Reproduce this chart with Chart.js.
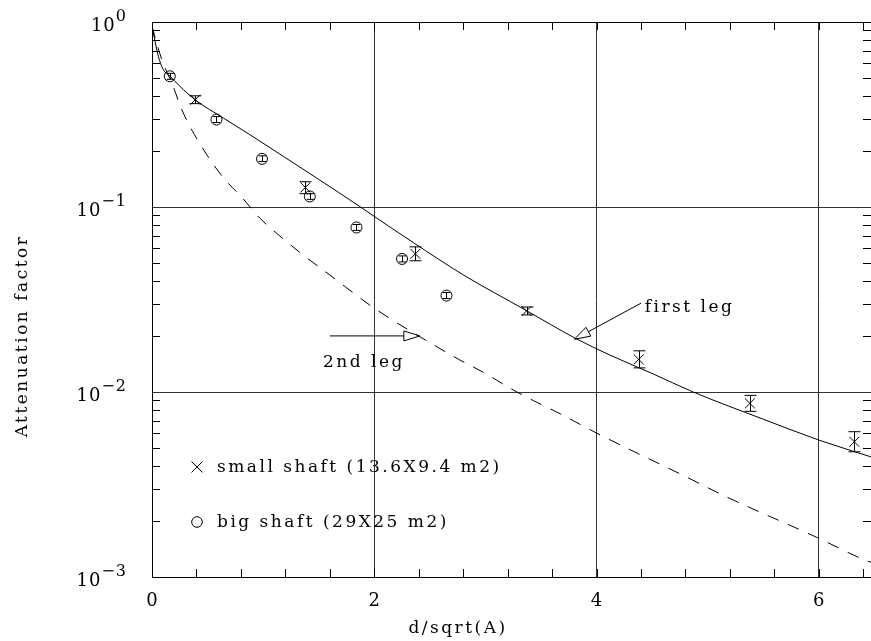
<!DOCTYPE html>
<html>
<head>
<meta charset="utf-8">
<script src="https://cdn.jsdelivr.net/npm/chart.js@4"></script>
<style>
  html, body { margin: 0; padding: 0; background: #fff; }
</style>
</head>
<body>
<canvas id="myChart" width="871" height="641"></canvas>
<script>
// measured points, small shaft (x marks, with error bars)
const smallX  = [0.39, 1.38, 2.37, 3.37, 4.38, 5.38, 6.32];
const smallY  = [0.380, 0.1275, 0.0558, 0.0274, 0.0150, 0.00868, 0.00538];
const smallLo = [0.362, 0.118, 0.0512, 0.0261, 0.0135, 0.00786, 0.00475];
const smallHi = [0.399, 0.137, 0.0609, 0.0288, 0.0167, 0.00959, 0.00610];

// measured points, big shaft (circles)
const bigX  = [0.16, 0.58, 0.99, 1.42, 1.84, 2.25, 2.65];
const bigY  = [0.509, 0.297, 0.182, 0.114, 0.0775, 0.0524, 0.0332];
const bigLo = [0.490, 0.286, 0.176, 0.110, 0.0747, 0.0505, 0.0320];
const bigHi = [0.528, 0.308, 0.189, 0.118, 0.0804, 0.0544, 0.0345];

// calculated curves
const firstLegX = [0, 0.012, 0.057, 0.10, 0.162, 0.25, 0.387, 0.641, 0.881, 1.181, 1.481, 1.871, 2.14, 2.35, 2.8, 3.367, 3.804, 4.119, 4.5, 4.87, 5.5, 6.0, 6.47];
const firstLegY = [0.95, 0.874, 0.653, 0.555, 0.509, 0.45, 0.380, 0.303, 0.246, 0.188, 0.1435, 0.1005, 0.0780, 0.0643, 0.0430, 0.0276, 0.0196, 0.01585, 0.0126, 0.0100, 0.00713, 0.0055, 0.00446];
const secondLegX = [0, 0.05, 0.10, 0.19, 0.26, 0.36, 0.49, 0.64, 0.81, 0.97, 1.15, 1.35, 1.6, 1.96, 2.14, 2.56, 2.77, 3.0, 3.22, 3.43, 3.64, 3.85, 4.0, 4.81, 5.17, 5.98, 6.38, 6.47];
const secondLegY = [0.95, 0.74, 0.60, 0.45, 0.345, 0.26, 0.193, 0.1445, 0.1125, 0.0871, 0.0698, 0.0556, 0.0429, 0.0295, 0.0250, 0.0176, 0.0149, 0.0126, 0.0105, 0.0090, 0.0078, 0.0067, 0.0060, 0.00347, 0.00271, 0.00164, 0.00126, 0.00120];

// axis ticks
const xTicks = [0, 2, 4, 6];
const yTicks = [0.001, 0.01, 0.1, 1];
const xTitle = 'd/sqrt(A)';
const yTitle = 'Attenuation factor';

// legend and annotations
const legendText = ['small shaft (13.6X9.4 m2)', 'big shaft (29X25 m2)'];
const noteText = ['first leg', '2nd leg'];
const noteX = [4.434, 1.538];
const noteY = [0.0271, 0.01369];
const arrowFrom = [[4.40, 0.0302], [1.60, 0.0201]];
const arrowTo   = [[3.80, 0.01926], [2.41, 0.0201]];

const FONT = '"DejaVu Serif", serif';

function pts(xs, ys) {
  return xs.map((v, i) => ({ x: v, y: ys[i] }));
}

function arrow(ctx, x0, y0, x1, y1) {
  const ang = Math.atan2(y1 - y0, x1 - x0);
  const len = 16, hw = 5;
  const bx = x1 - Math.cos(ang) * len, by = y1 - Math.sin(ang) * len;
  ctx.beginPath();
  ctx.moveTo(x0, y0);
  ctx.lineTo(bx, by);
  ctx.stroke();
  ctx.beginPath();
  ctx.moveTo(x1, y1);
  ctx.lineTo(bx - Math.sin(ang) * hw, by + Math.cos(ang) * hw);
  ctx.lineTo(bx + Math.sin(ang) * hw, by - Math.cos(ang) * hw);
  ctx.closePath();
  ctx.stroke();
}

const extras = {
  id: 'extras',
  afterDatasetsDraw(chart) {
    const ctx = chart.ctx;
    const a = chart.chartArea;
    const xs = chart.scales.x, ys = chart.scales.y;
    ctx.save();
    ctx.strokeStyle = '#000';
    ctx.fillStyle = '#000';
    ctx.lineWidth = 1;

    // error bars
    const bars = (X, lo, hi, cap) => {
      X.forEach((v, i) => {
        const px = Math.round(xs.getPixelForValue(v)) + 0.5;
        const p1 = ys.getPixelForValue(lo[i]), p2 = ys.getPixelForValue(hi[i]);
        ctx.beginPath();
        ctx.moveTo(px, p1); ctx.lineTo(px, p2);
        ctx.moveTo(px - cap, p1); ctx.lineTo(px + cap, p1);
        ctx.moveTo(px - cap, p2); ctx.lineTo(px + cap, p2);
        ctx.stroke();
      });
    };
    bars(smallX, smallLo, smallHi, 6);
    bars(bigX, bigLo, bigHi, 4);

    // frame top and inward minor ticks
    ctx.beginPath();
    ctx.moveTo(a.left, a.top + 0.5); ctx.lineTo(a.right, a.top + 0.5);
    for (let v = 0.4; v < 6.47; v += 0.4) {
      const px = Math.round(xs.getPixelForValue(v)) + 0.5;
      ctx.moveTo(px, a.bottom); ctx.lineTo(px, a.bottom - 8);
      ctx.moveTo(px, a.top); ctx.lineTo(px, a.top + 8);
    }
    for (let d = -3; d < 0; d++) {
      for (let m = 2; m <= 9; m++) {
        const py = Math.round(ys.getPixelForValue(m * Math.pow(10, d))) + 0.5;
        ctx.moveTo(a.left, py); ctx.lineTo(a.left + 8, py);
        ctx.moveTo(a.right, py); ctx.lineTo(a.right - 8, py);
      }
    }
    ctx.stroke();

    // y tick labels 10^n
    ctx.textBaseline = 'alphabetic';
    ctx.textAlign = 'left';
    ctx.letterSpacing = '1px';
    yTicks.forEach(v => {
      const py = ys.getPixelForValue(v);
      const n = Math.round(Math.log10(v));
      const sup = n < 0 ? '\u2212' + (-n) : String(n);
      ctx.font = '16px ' + FONT;
      const ws = ctx.measureText(sup).width;
      ctx.font = '18px ' + FONT;
      const wm = ctx.measureText('10').width;
      const right = a.left - 25;
      ctx.fillText('10', right - ws - wm, py + 9);
      ctx.font = '16px ' + FONT;
      ctx.fillText(sup, right - ws, py - 1);
    });

    // x tick labels
    ctx.font = '18px ' + FONT;
    ctx.textAlign = 'center';
    ctx.letterSpacing = '0px';
    xTicks.forEach(v => {
      ctx.fillText(String(v), xs.getPixelForValue(v), a.bottom + 29);
    });

    // axis titles
    ctx.font = '17px ' + FONT;
    ctx.letterSpacing = '2.5px';
    ctx.fillText(xTitle, 458, 633);
    ctx.save();
    ctx.translate(27, 336);
    ctx.rotate(-Math.PI / 2);
    ctx.fillText(yTitle, 0, 0);
    ctx.restore();

    // annotations
    ctx.textAlign = 'left';
    noteText.forEach((t, i) => {
      ctx.fillText(t, xs.getPixelForValue(noteX[i]), ys.getPixelForValue(noteY[i]));
    });
    ctx.letterSpacing = '0px';
    arrowFrom.forEach((f, i) => {
      arrow(ctx, xs.getPixelForValue(f[0]), ys.getPixelForValue(f[1]),
        xs.getPixelForValue(arrowTo[i][0]), ys.getPixelForValue(arrowTo[i][1]));
    });

    // legend
    const lx = a.left + 45;
    const ly = [467, 522];
    ctx.beginPath();
    ctx.moveTo(lx - 5.5, ly[0] - 5.5); ctx.lineTo(lx + 5.5, ly[0] + 5.5);
    ctx.moveTo(lx - 5.5, ly[0] + 5.5); ctx.lineTo(lx + 5.5, ly[0] - 5.5);
    ctx.stroke();
    ctx.beginPath();
    ctx.arc(lx, ly[1], 5.3, 0, Math.PI * 2);
    ctx.stroke();
    ctx.letterSpacing = '2.5px';
    legendText.forEach((t, i) => {
      ctx.fillText(t, lx + 20, ly[i] + 5);
    });
    ctx.restore();
  }
};

const ctx = document.getElementById('myChart').getContext('2d');

const myChart = new Chart(ctx, {
  type: 'scatter',
  data: {
    datasets: [
      {
        label: legendText[0],
        data: pts(smallX, smallY),
        pointStyle: 'crossRot',
        pointRadius: 7,
        pointBorderWidth: 1,
        borderColor: '#000',
        backgroundColor: 'rgba(0,0,0,0)'
      },
      {
        label: legendText[1],
        data: pts(bigX, bigY),
        pointStyle: 'circle',
        pointRadius: 5.5,
        pointBorderWidth: 1,
        borderColor: '#000',
        backgroundColor: 'rgba(0,0,0,0)'
      },
      {
        label: noteText[0],
        data: pts(firstLegX, firstLegY),
        showLine: true,
        pointRadius: 0,
        borderColor: '#000',
        borderWidth: 1,
        cubicInterpolationMode: 'monotone'
      },
      {
        label: noteText[1],
        data: pts(secondLegX, secondLegY),
        showLine: true,
        pointRadius: 0,
        borderColor: '#000',
        borderWidth: 1,
        borderDash: [12, 10],
        cubicInterpolationMode: 'monotone'
      }
    ]
  },
  options: {
    responsive: false,
    animation: false,
    devicePixelRatio: 1,
    layout: { autoPadding: false, padding: { top: 22, right: 0, left: 0, bottom: 0 } },
    plugins: { legend: { display: false }, tooltip: { enabled: false } },
    scales: {
      x: {
        type: 'linear',
        min: 0,
        max: 6.47,
        afterBuildTicks: s => { s.ticks = xTicks.map(v => ({ value: v })); },
        afterFit: s => { s.height = 64; s.paddingLeft = 0; s.paddingRight = 0; },
        ticks: { display: false },
        grid: { color: '#333', lineWidth: 1, drawTicks: false },
        border: { display: true, color: '#000' }
      },
      y: {
        type: 'logarithmic',
        min: 0.001,
        max: 1,
        afterBuildTicks: s => { s.ticks = yTicks.map(v => ({ value: v })); },
        afterFit: s => { s.width = 152; s.paddingTop = 0; s.paddingBottom = 0; },
        ticks: { display: false },
        grid: { color: '#333', lineWidth: 1, drawTicks: false },
        border: { display: true, color: '#000' }
      }
    }
  },
  plugins: [extras]
});
</script>
</body>
</html>
